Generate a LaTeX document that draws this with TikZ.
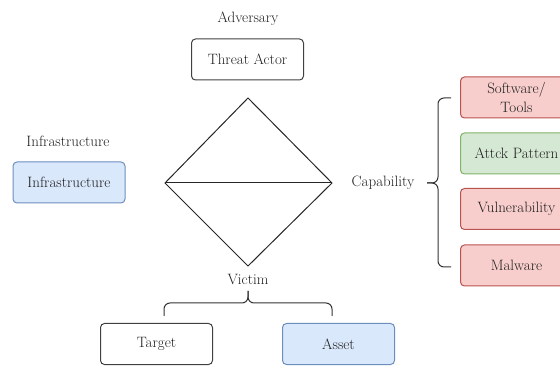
\documentclass[tikz,border=0pt]{standalone}
\definecolor{bluefill}{HTML}{DAE8FC}
\definecolor{bluedraw}{HTML}{6C8EBF}
\definecolor{redfill}{HTML}{F8CECC}
\definecolor{reddraw}{HTML}{B85450}
\definecolor{greenfill}{HTML}{D5E8D4}
\definecolor{greendraw}{HTML}{82B366}
\definecolor{txt}{HTML}{1E1E1E}
\begin{document}
\begin{tikzpicture}[x=1pt,y=-1pt,
  box/.style={draw=black!75,rounded corners=4pt,line width=1pt,minimum width=112pt,minimum height=41pt,inner sep=2pt,align=center,font=\fontsize{15}{19}\selectfont,text=txt},
  bluebox/.style={box,fill=bluefill,draw=bluedraw},
  redbox/.style={box,fill=redfill,draw=reddraw},
  greenbox/.style={box,fill=greenfill,draw=greendraw},
  lbl/.style={font=\fontsize{15}{16}\selectfont,text=txt},
  ln/.style={draw=black!85,line width=1pt},
  brc/.style={draw=black!80,line width=1pt,rounded corners=6pt}]
\useasboundingbox (0,0) rectangle (560,366);
% labels
\node[lbl] (adv) at (248,19) {Adversary};
\node[lbl] (infl) at (68,141) {Infrastructure};
\node[lbl] (capl) at (383,183) {Capability};
\node[lbl] (vicl) at (248,279) {Victim};
% boxes
\node[box] (ta) at (247.5,59.5) {Threat Actor};
\node[bluebox] (inf) at (69,182.5) {Infrastructure};
\node[redbox] (sw) at (516.5,97.5) {Software/\\Tools};
\node[greenbox] (ap) at (516.5,153.5) {Attck Pattern};
\node[redbox] (vu) at (516.5,209) {Vulnerability};
\node[redbox] (mw) at (516.5,265.5) {Malware};
\node[box] (tg) at (156.5,344) {Target};
\node[bluebox] (as) at (338.5,344) {Asset};
% diamond
\coordinate (dt) at (248,98);
\coordinate (dl) at (165,183);
\coordinate (dr) at (332,183);
\coordinate (db) at (248,266);
\draw[ln,line join=miter] (dt) -- (dr) -- (db) -- (dl) -- cycle;
\draw[ln] (dl) -- (dr);
% capability brace
\coordinate (cbt) at (451,98);
\coordinate (cbb) at (451,267);
\coordinate (cbtip) at (427,183);
\draw[brc] (cbt) -- (438,98) -- (438,183) -- (cbtip);
\draw[brc] (cbb) -- (438,267) -- (438,183) -- (cbtip);
% victim brace
\coordinate (vbl) at (164,316);
\coordinate (vbr) at (332,316);
\coordinate (vbtip) at (248,291);
\draw[brc] (vbl) -- (164,303) -- (248,303) -- (vbtip);
\draw[brc] (vbr) -- (332,303) -- (248,303) -- (vbtip);
\end{tikzpicture}
\end{document}
